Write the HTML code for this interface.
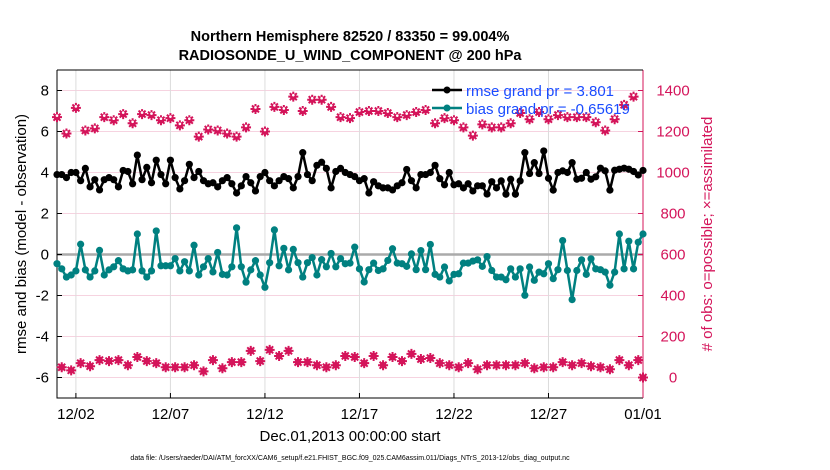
<!DOCTYPE html>
<html><head><meta charset="utf-8"><style>
body{margin:0;background:#fff;}
svg{display:block;font-family:"Liberation Sans",Arial,sans-serif;}
</style></head><body>
<svg id="chart" width="830" height="470" xmlns="http://www.w3.org/2000/svg">
<text x="350" y="41" text-anchor="middle" font-size="14.5" font-weight="bold">Northern Hemisphere 82520 / 83350 = 99.004%</text>
<text x="350" y="60" text-anchor="middle" font-size="14.5" font-weight="bold">RADIOSONDE_U_WIND_COMPONENT @ 200 hPa</text>
<g id="grid"></g>
<g id="axes"></g>
<g id="marks"></g>
<text transform="translate(26,234) rotate(-90)" text-anchor="middle" font-size="15">rmse and bias (model - observation)</text>
<text transform="translate(712,234) rotate(-90)" text-anchor="middle" font-size="15" fill="#d4145a"># of obs: o=possible; ×=assimilated</text>
<text x="350" y="441" text-anchor="middle" font-size="15">Dec.01,2013 00:00:00 start</text>
<text x="350" y="460" text-anchor="middle" font-size="7">data file: /Users/raeder/DAI/ATM_forcXX/CAM6_setup/f.e21.FHIST_BGC.f09_025.CAM6assim.011/Diags_NTrS_2013-12/obs_diag_output.nc</text>
<g>
<line x1="432" y1="90" x2="462" y2="90" stroke="#000" stroke-width="2.5"/><circle cx="447" cy="90" r="3.5" fill="#000"/>
<text x="466" y="96" font-size="15" fill="#1a4cff">rmse grand pr = 3.801</text>
<line x1="432" y1="108" x2="462" y2="108" stroke="#008080" stroke-width="2.5"/><circle cx="447" cy="108" r="3.5" fill="#008080"/>
<text x="466" y="114" font-size="15" fill="#1a4cff">bias grand pr = -0.65619</text>
</g>
</svg>
<script>
const xTickLabels = ["12/02","12/07","12/12","12/17","12/22","12/27","01/01"];
const xTickDays = [1,6,11,16,21,26,31];
const leftTicks = [-6,-4,-2,0,2,4,6,8];
const rightTicks = [0,200,400,600,800,1000,1200,1400];
const stepDays = 0.25;
const rmse = [3.9,3.9,3.75,4.0,4.0,3.6,4.2,3.3,3.65,3.15,3.65,3.75,3.65,3.3,4.1,4.05,3.45,4.85,3.65,4.25,3.5,4.6,3.9,3.45,4.6,3.75,3.2,3.6,4.4,3.75,4.05,
3.6,3.45,3.5,3.3,3.6,3.75,3.45,3.0,3.35,3.8,3.5,3.1,3.8,4.0,3.6,3.35,3.6,3.8,3.7,3.25,3.8,4.97,3.9,3.6,4.35,4.5,4.2,3.25,4.05,4.2,4.0,
3.9,3.8,3.6,3.7,3.0,3.55,3.35,3.25,3.25,3.15,3.35,3.5,4.15,3.6,3.25,3.9,3.9,4.0,4.35,3.7,3.4,4.0,3.4,3.45,3.25,3.45,3.1,3.35,3.35,2.95,3.55,
3.25,3.59,2.94,3.67,2.94,3.59,4.97,3.95,4.48,3.95,5.05,3.72,3.14,4.0,4.08,4.0,4.48,3.67,3.72,4.0,3.67,3.79,4.21,4.08,3.14,4.11,4.16,4.21,4.16,4.05,3.88,4.1];
const bias = [-0.45,-0.7,-1.1,-1.0,-0.8,0.5,-0.75,-1.1,-0.8,0.2,-1.0,-0.75,-0.6,-0.3,-0.7,-0.8,-0.75,1.0,-0.8,-1.1,-0.8,1.15,-0.55,-0.55,-0.55,-0.2,-0.8,-0.35,-0.8,0.45,-1.0,
-0.6,-0.2,-0.85,0.1,-0.97,-1.0,-0.6,1.3,-0.6,-1.35,-0.75,-0.3,-1.0,-1.6,-0.4,1.2,-0.55,0.3,-0.75,0.25,-0.4,-1.1,-0.4,-0.15,-1.0,-0.25,-0.6,0.05,-0.6,-0.2,-0.45,
-0.42,0.36,-0.7,-1.34,-0.74,-0.42,-0.78,-0.7,-0.29,0.28,-0.42,-0.45,-0.58,0.03,-0.74,0.19,-0.74,0.49,-0.97,-1.1,-0.61,-1.29,-0.97,-0.94,-0.42,-0.42,-0.32,-0.26,-0.58,-0.1,-0.78,-1.1,
-1.1,-1.23,-0.7,-1.1,-0.7,-1.99,-0.61,-1.26,-0.86,-0.94,-0.45,-1.18,-0.74,0.68,-0.78,-2.2,-0.78,-0.26,-0.97,-0.21,-0.7,-0.74,-0.86,-1.5,-0.86,1.0,-0.7,0.65,-0.7,0.6,1.0];
const obsCount = [1270,50,1190,35,1315,70,1205,55,1215,85,1270,80,1255,85,1285,60,1240,100,1285,80,1280,70,1255,50,1265,50,1230,50,1255,60,1175,
30,1210,85,1205,45,1190,75,1175,75,1220,130,1310,80,1200,135,1320,105,1305,130,1370,75,1300,75,1355,60,1355,50,1320,60,1270,105,
1265,100,1295,70,1300,105,1300,60,1290,100,1270,80,1280,115,1295,90,1305,95,1240,70,1265,60,1255,50,1220,70,1180,40,1235,60,1220,60,
1220,60,1240,60,1290,70,1260,45,1295,50,1260,50,1280,75,1270,60,1270,70,1270,55,1245,50,1205,40,1260,85,1330,60,1370,85,0];

const NS="http://www.w3.org/2000/svg";
const X0=57,X1=643,Y0=70,Y1=398;
const xs=d=>X0+(d/31)*(X1-X0);
const yl=v=>Y1-(v+7)/16*(Y1-Y0);
const yr=c=>Y1-(c+100)/1600*(Y1-Y0);
const RED="#d4145a";
function mk(tag,attrs,parent){const e=document.createElementNS(NS,tag);for(const k in attrs)e.setAttribute(k,attrs[k]);parent.appendChild(e);return e;}
const grid=document.getElementById('grid'),axes=document.getElementById('axes'),marks=document.getElementById('marks');

rightTicks.forEach(c=>{const l=mk('line',{x1:X0,x2:X1,y1:yr(c),y2:yr(c),stroke:"#f6d3e0","stroke-width":1},grid);

});
xTickDays.forEach((d,i)=>{const l=mk('line',{x1:xs(d),x2:xs(d),y1:Y0,y2:Y1,stroke:"#dcdcdc","stroke-width":1},grid);


const t=mk('line',{x1:xs(d),x2:xs(d),y1:Y1,y2:Y1-5,stroke:"#000"},axes);


const tx=mk('text',{x:xs(d),y:Y1+21,"text-anchor":"middle","font-size":15},axes);tx.textContent=xTickLabels[i];

});
const zl=mk('line',{x1:X0,x2:X1,y1:yl(0),y2:yl(0),stroke:"#aaaaaa","stroke-width":2.5},grid);



const ax=mk('path',{d:`M${X0},${Y0}V${Y1}H${X1}`,fill:"none",stroke:"#000","stroke-width":1},axes);


const rax=mk('line',{x1:X1,x2:X1,y1:Y0,y2:Y1,stroke:RED,"stroke-width":1},axes);


const tax=mk('line',{x1:X0,x2:X1,y1:Y0,y2:Y0,stroke:"#000","stroke-width":1},axes);


leftTicks.forEach(v=>{const t=mk('line',{x1:X0,x2:X0+5,y1:yl(v),y2:yl(v),stroke:"#000"},axes);


const tx=mk('text',{x:X0-8,y:yl(v)+5,"text-anchor":"end","font-size":15},axes);tx.textContent=v;

});
rightTicks.forEach(c=>{const t=mk('line',{x1:X1-5,x2:X1,y1:yr(c),y2:yr(c),stroke:RED},axes);


const tx=mk('text',{x:X1+30,y:yr(c)+5,"text-anchor":"middle","font-size":15,fill:RED},axes);tx.textContent=c;

});

// counts
obsCount.forEach((c,i)=>{const x=xs(i*stepDays),y=yr(c);
const g=mk('g',{},marks);


mk('path',{d:`M${x-5},${y}H${x+5}M${x},${y-5}V${y+5}M${x-3.5},${y-3.5}L${x+3.5},${y+3.5}M${x-3.5},${y+3.5}L${x+3.5},${y-3.5}`,stroke:RED,"stroke-width":2},g);
mk('circle',{cx:x,cy:y,r:3.3,fill:RED},g);
if(c>600) mk('circle',{cx:x,cy:y-1.5,r:1.3,fill:"#fff"},g);});

function series(vals,color,name){
const d=vals.map((v,i)=>(i?'L':'M')+xs(i*stepDays).toFixed(1)+','+yl(v).toFixed(1)).join('');
const p=mk('path',{d:d,fill:"none",stroke:color,"stroke-width":2.5,"stroke-linejoin":"round"},marks);


vals.forEach((v,i)=>{const c=mk('circle',{cx:xs(i*stepDays),cy:yl(v),r:3.6,fill:color},marks);

});}
series(bias,"#008080","bias");
series(rmse,"#000000","rmse");
</script>
</body></html>
